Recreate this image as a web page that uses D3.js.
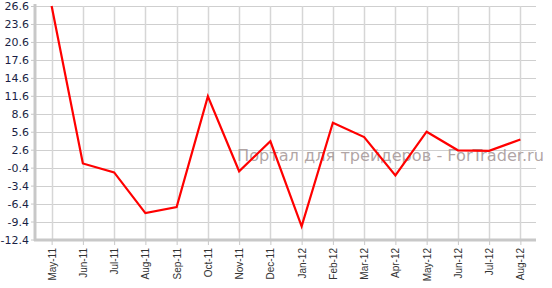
<!DOCTYPE html>
<html><head><meta charset="utf-8">
<script src="https://cdnjs.cloudflare.com/ajax/libs/d3/7.8.5/d3.min.js"></script>
<style>body{margin:0;background:#fff}svg{display:block}</style>
</head><body>
<script>
const categories = ["May-11","Jun-11","Jul-11","Aug-11","Sep-11","Oct-11","Nov-11","Dec-11","Jan-12","Feb-12","Mar-12","Apr-12","May-12","Jun-12","Jul-12","Aug-12"];
const values = [26.6, 0.3, -1.2, -8.0, -7.0, 11.5, -1.0, 4.0, -10.2, 7.1, 4.7, -1.7, 5.6, 2.5, 2.4, 4.3];
const yTicks = [26.6, 23.6, 20.6, 17.6, 14.6, 11.6, 8.6, 5.6, 2.6, -0.4, -3.4, -6.4, -9.4, -12.4];
const watermark = "Портал для трейдеров - ForTrader.ru";

const W = 552, H = 288;
const m = {left: 36, right: 16, top: 6, bottom: 48};
const svg = d3.select("body").append("svg").attr("width", W).attr("height", H);

const x = d3.scalePoint().domain(categories).range([m.left, W - m.right]).padding(0.5);
const y = d3.scaleLinear().domain([-12.4, 26.6]).range([239.5, 6]);

// horizontal grid
svg.append("g").selectAll("line").data(yTicks).join("line")
  .attr("x1", m.left).attr("x2", W - m.right)
  .attr("y1", d => Math.round(y(d)) + 0.5).attr("y2", d => Math.round(y(d)) + 0.5)
  .attr("stroke", "#cfcfcf").attr("stroke-width", 1);
// vertical grid
svg.append("g").selectAll("line").data(categories).join("line")
  .attr("x1", d => Math.round(x(d)) + 0.5).attr("x2", d => Math.round(x(d)) + 0.5)
  .attr("y1", 6).attr("y2", 240)
  .attr("stroke", "#d6d6d6").attr("stroke-width", 1.5);

// left axis
const yAxis = d3.axisLeft(y).tickValues(yTicks).tickSize(5).tickPadding(2).tickFormat(d => d.toFixed(1));
const gy = svg.append("g").attr("transform", `translate(${m.left},0)`).call(yAxis);
gy.select(".domain").remove();
gy.selectAll(".tick line").attr("stroke", "#c8c8c8").attr("stroke-width", 1);
gy.selectAll(".tick text").attr("fill", "#1a1f45").attr("font-family", "Verdana, 'DejaVu Sans', sans-serif").attr("font-size", 11);
svg.append("line").attr("x1", 35).attr("x2", 35).attr("y1", 4).attr("y2", 241)
  .attr("stroke", "#c8c8c8").attr("stroke-width", 3);

// bottom axis
const xAxis = d3.axisBottom(x).tickSize(5).tickPadding(4);
const gx = svg.append("g").attr("transform", `translate(0,240)`).call(xAxis);
gx.select(".domain").remove();
gx.selectAll(".tick line").attr("stroke", "#c8c8c8");
gx.selectAll(".tick text")
  .attr("transform", "rotate(-90)")
  .attr("text-anchor", "end").attr("x", -8).attr("y", 0).attr("dy", "0.35em")
  .attr("fill", "#333").attr("font-family", "Arial, 'Liberation Sans', sans-serif").attr("font-size", 10);
svg.append("line").attr("x1", 34).attr("x2", W - m.right).attr("y1", 240).attr("y2", 240)
  .attr("stroke", "#c8c8c8").attr("stroke-width", 3);

// watermark
svg.append("text").attr("x", 237).attr("y", 161).text(watermark)
  .attr("font-family", "Verdana, 'DejaVu Sans', sans-serif").attr("font-size", 16)
  .attr("textLength", 307).attr("lengthAdjust", "spacingAndGlyphs")
  .attr("fill", "#a39595").attr("fill-opacity", 0.85);

// line
const line = d3.line().x((d, i) => x(categories[i])).y(d => y(d));
svg.append("path").datum(values).attr("d", line)
  .attr("fill", "none").attr("stroke", "#ff0000").attr("stroke-width", 2.2)
  .attr("stroke-linejoin", "miter");
</script>
</body></html>
